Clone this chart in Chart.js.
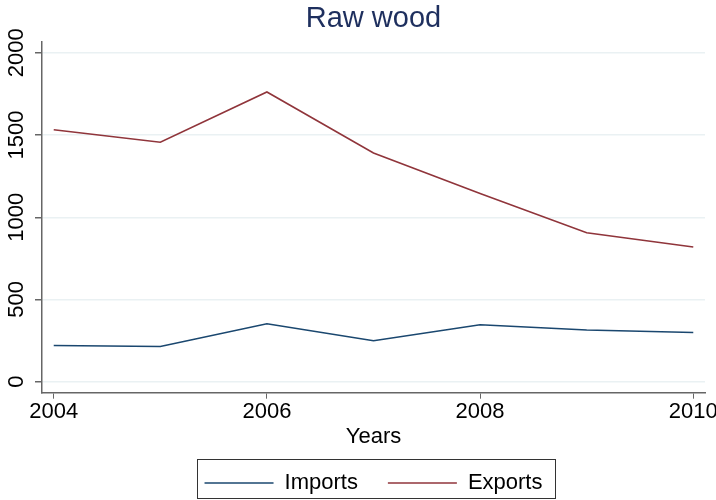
<!DOCTYPE html>
<html>
<head>
<meta charset="utf-8">
<script src="https://cdn.jsdelivr.net/npm/chart.js@4.4.0/dist/chart.umd.min.js"></script>
<style>
  html, body { margin: 0; padding: 0; background: #ffffff; }
  #wrap { width: 716px; height: 500px; }
</style>
</head>
<body>
<div id="wrap"><canvas id="grafico"></canvas></div>
<script>
// datos
const anios = [2004, 2005, 2006, 2007, 2008, 2009, 2010];
const importaciones = [220, 214, 352, 249, 346, 314, 299];
const exportaciones = [1532, 1456, 1762, 1391, 1145, 906, 819];
const ticksX = [2004, 2006, 2008, 2010];
const ticksY = [0, 500, 1000, 1500, 2000];

const fuente = "'Liberation Sans', Arial, sans-serif";

// etiquetas verticales del eje Y (estilo Stata)
const etiquetasY = {
  id: "etiquetasY",
  afterDraw(chart) {
    const ctx = chart.ctx;
    const y = chart.scales.y;
    ctx.save();
    ctx.fillStyle = "#000";
    ctx.font = "22px " + fuente;
    ctx.textAlign = "center";
    ctx.textBaseline = "middle";
    ticksY.forEach(v => {
      ctx.save();
      ctx.translate(17, y.getPixelForValue(v));
      ctx.rotate(-Math.PI / 2);
      ctx.fillText(String(v), 0, 0);
      ctx.restore();
    });
    ctx.restore();
  }
};

// marco alrededor de la leyenda
const marcoLeyenda = {
  id: "marcoLeyenda",
  afterDraw(chart) {
    const cajas = chart.legend.legendHitBoxes;
    if (!cajas || !cajas.length) return;
    const x0 = Math.min(...cajas.map(c => c.left)) - 8;
    const x1 = Math.max(...cajas.map(c => c.left + c.width)) + 12;
    const y0 = Math.min(...cajas.map(c => c.top)) - 13;
    const y1 = Math.max(...cajas.map(c => c.top + c.height)) + 4;
    const ctx = chart.ctx;
    ctx.save();
    ctx.strokeStyle = "#333";
    ctx.lineWidth = 1;
    ctx.strokeRect(Math.round(x0) + 0.5, Math.round(y0) + 0.5, Math.round(x1 - x0), Math.round(y1 - y0));
    ctx.restore();
  }
};

new Chart(document.getElementById("grafico"), {
  type: "line",
  data: {
    labels: anios,
    datasets: [
      {
        label: "Imports",
        data: anios.map((a, i) => ({ x: a, y: importaciones[i] })),
        borderColor: "#1a476f",
        backgroundColor: "#1a476f",
        borderWidth: 1.6,
        pointRadius: 0,
        tension: 0
      },
      {
        label: "Exports",
        data: anios.map((a, i) => ({ x: a, y: exportaciones[i] })),
        borderColor: "#90353b",
        backgroundColor: "#90353b",
        borderWidth: 1.6,
        pointRadius: 0,
        tension: 0
      }
    ]
  },
  options: {
    responsive: true,
    maintainAspectRatio: false,
    animation: false,
    layout: { padding: { left: 0, right: 11, top: 0, bottom: -4 } },
    plugins: {
      title: {
        display: true,
        text: "Raw wood",
        color: "#1e2f5e",
        fullSize: false,
        font: { family: fuente, size: 29, weight: "normal" },
        padding: { top: 2, bottom: 5 }
      },
      legend: {
        position: "bottom",
        fullSize: false,
        labels: {
          color: "#000",
          font: { family: fuente, size: 22 },
          boxWidth: 69,
          boxHeight: 1.5,
          padding: 30,
          generateLabels: chart =>
            Chart.defaults.plugins.legend.labels.generateLabels(chart).map(l => ({ ...l, lineWidth: 0 }))
        }
      },
      tooltip: { enabled: false }
    },
    scales: {
      x: {
        type: "linear",
        min: 2003.89,
        max: 2010.11,
        afterBuildTicks: s => { s.ticks = ticksX.map(v => ({ value: v })); },
        afterFit: s => { s.paddingRight = 0; },
        grid: { display: true, drawOnChartArea: false, drawTicks: true, tickLength: 6, tickColor: "#666", lineWidth: 1 },
        border: { display: true, color: "#666", width: 1.5 },
        ticks: { color: "#000", font: { family: fuente, size: 22 }, padding: 0, maxRotation: 0, callback: v => String(v) },
        title: { display: true, text: "Years", color: "#000", font: { family: fuente, size: 22 }, padding: { top: -1, bottom: -8.5 } }
      },
      y: {
        min: -67,
        max: 2067,
        afterBuildTicks: s => { s.ticks = ticksY.map(v => ({ value: v })); },
        afterFit: s => { s.width = 42; },
        grid: { color: "#eaf1f3", lineWidth: 1.5, drawTicks: true, tickLength: 7, tickColor: "#666" },
        border: { display: true, color: "#666", width: 1.5 },
        ticks: { display: false }
      }
    }
  },
  plugins: [etiquetasY, marcoLeyenda]
});
</script>
</body>
</html>
